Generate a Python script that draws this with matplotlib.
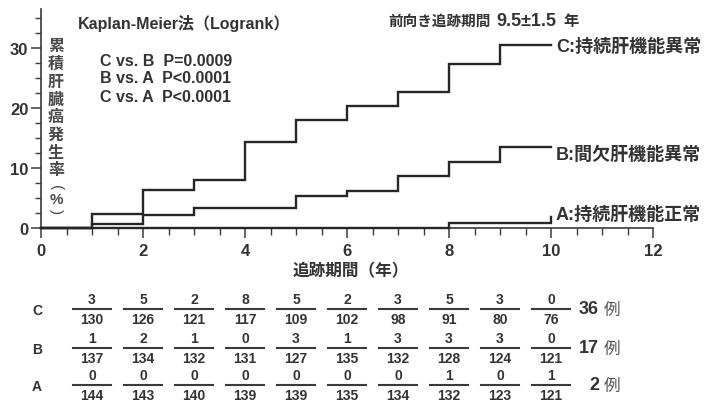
import matplotlib
matplotlib.use("Agg")
import matplotlib.pyplot as plt
from matplotlib.ticker import MultipleLocator
from matplotlib.transforms import blended_transform_factory
from matplotlib.lines import Line2D

# Follow-up years and cumulative incidence (%) for each group (step after each year)
years = [0, 1, 2, 3, 4, 5, 6, 7, 8, 9, 10]
cum_C = [0, 2.4, 6.3, 8.0, 14.3, 18.0, 20.3, 22.7, 27.3, 30.5, 30.5]
cum_B = [0, 0.7, 2.2, 3.3, 3.3, 5.3, 6.2, 8.7, 11.0, 13.5, 13.5]
cum_A = [0, 0, 0, 0, 0, 0, 0, 0, 0.9, 0.9, 1.9]

group_labels = ["C:持続肝機能異常", "B:間欠肝機能異常", "A:持続肝機能正常"]

# Events / patients at risk per year
table_years = [1, 2, 3, 4, 5, 6, 7, 8, 9, 10]
events_C = [3, 5, 2, 8, 5, 2, 3, 5, 3, 0]
risk_C = [130, 126, 121, 117, 109, 102, 98, 91, 80, 76]
events_B = [1, 2, 1, 0, 3, 1, 3, 3, 3, 0]
risk_B = [137, 134, 132, 131, 127, 135, 132, 128, 124, 121]
events_A = [0, 0, 0, 0, 0, 0, 0, 1, 0, 1]
risk_A = [144, 143, 140, 139, 139, 135, 134, 132, 123, 121]
totals = ["36", "17", "2"]

x_ticks = [0, 2, 4, 6, 8, 10, 12]
y_ticks = [0, 10, 20, 30]

W, H = 711, 402
FONT = ["Liberation Sans", "Noto Sans CJK JP"]
TXT = "#333333"
LINE = "#262626"

plt.rcParams["font.family"] = FONT

fig = plt.figure(figsize=(W / 100, H / 100), dpi=100)
fig.patch.set_facecolor("white")


def fx(x):
    return x / W


def fy(y):
    return 1 - y / H


ax = fig.add_axes([fx(41), fy(229), (653 - 41) / W, (229 - 10) / H])
ax.set_xlim(0, 12)
ax.set_ylim(0, 36.5)

for vals in (cum_C, cum_B, cum_A):
    ax.step(years, vals, where="post", color=LINE, lw=1.7, clip_on=False,
            solid_joinstyle="miter", zorder=3)

for s in ("top", "right"):
    ax.spines[s].set_visible(False)
for s in ("left", "bottom"):
    ax.spines[s].set_color("#3a3a3a")
    ax.spines[s].set_linewidth(1.2)

ax.set_xticks(x_ticks)
ax.set_yticks(y_ticks)
ax.xaxis.set_minor_locator(MultipleLocator(0.5))
ax.yaxis.set_minor_locator(MultipleLocator(2.5))
ax.tick_params(axis="x", which="major", direction="out", length=7, width=1.1,
               color="#3a3a3a", pad=4, labelsize=12, labelcolor=TXT)
ax.tick_params(axis="x", which="minor", direction="out", length=5, width=1.0,
               color="#3a3a3a")
ax.tick_params(axis="y", which="major", direction="out", length=7.5, width=1.1,
               color="#3a3a3a", pad=1.5, labelsize=12, labelcolor=TXT)
ax.tick_params(axis="y", which="minor", direction="out", length=4.5, width=1.0,
               color="#3a3a3a")
for lab in ax.get_xticklabels() + ax.get_yticklabels():
    lab.set_fontweight("bold")

# Vertical y-axis title, one character per line
YCOL = "#4a4a4a"
ylab_chars = ["累", "積", "肝", "臓", "癌", "発", "生", "率"]
for i, ch in enumerate(ylab_chars):
    fig.text(fx(56), fy(47 + i * 17.7), ch, fontsize=11.5, color=YCOL,
             fontweight="bold", ha="center", va="center")
fig.text(fx(56), fy(188), "(", fontsize=11, color=YCOL, rotation=-90,
         ha="center", va="center")
fig.text(fx(56), fy(200), "%", fontsize=11, color=YCOL, fontweight="bold",
         ha="center", va="center")
fig.text(fx(56), fy(212), ")", fontsize=11, color=YCOL, rotation=-90,
         ha="center", va="center")

fig.text(fx(351), fy(271), "追跡期間（年）", fontsize=12, color=TXT,
         fontweight="bold", ha="center", va="center")

fig.text(fx(78), fy(24), "Kaplan-Meier法（Logrank）", fontsize=11.5, color=TXT,
         fontweight="bold", ha="left", va="center")
for i, s in enumerate(["C vs. B  P=0.0009", "B vs. A  P<0.0001", "C vs. A  P<0.0001"]):
    fig.text(fx(100), fy(61 + i * 18), s, fontsize=11.5, color=TXT,
             fontweight="bold", ha="left", va="center")

# Follow-up period note
fig.text(fx(388), fy(22), "前向き追跡期間", fontsize=10.5, color=TXT,
         fontweight="bold", ha="left", va="center")
fig.text(fx(496), fy(22), "9.5±1.5", fontsize=13, color=TXT,
         fontweight="bold", ha="left", va="center")
fig.text(fx(563), fy(22), "年", fontsize=11, color=TXT,
         fontweight="bold", ha="left", va="center")

# Curve end labels
for lab, yy in zip(group_labels, [47, 155, 215]):
    fig.text(fx(556), fy(yy), lab, fontsize=13, color=TXT, fontweight="bold",
             ha="left", va="center")

# Events / at-risk table below the plot
trans = blended_transform_factory(ax.transData, fig.transFigure)
rows = [("C", events_C, risk_C, 310), ("B", events_B, risk_B, 349),
        ("A", events_A, risk_A, 386)]
for (name, ev, rk, ybar), tot in zip(rows, totals):
    fig.text(fx(37), fy(ybar + 1), name, fontsize=10, color=TXT, fontweight="bold",
             ha="center", va="center")
    for xv, e, r in zip(table_years, ev, rk):
        ax.text(xv, fy(ybar - 10), str(e), transform=trans, fontsize=10,
                color=TXT, fontweight="bold", ha="center", va="center")
        ax.text(xv, fy(ybar + 10.5), str(r), transform=trans, fontsize=10,
                color=TXT, fontweight="bold", ha="center", va="center")
        fig.add_artist(Line2D([xv - 0.37, xv + 0.37], [fy(ybar), fy(ybar)],
                              transform=trans, color="#3a3a3a", lw=1.5))
    fig.text(fx(599), fy(ybar), tot, fontsize=13, color=TXT, fontweight="bold",
             ha="right", va="center")
    fig.text(fx(604), fy(ybar), "例", fontsize=12, color="#555555",
             ha="left", va="center")

fig.savefig("out.png", dpi=100, facecolor="white")
